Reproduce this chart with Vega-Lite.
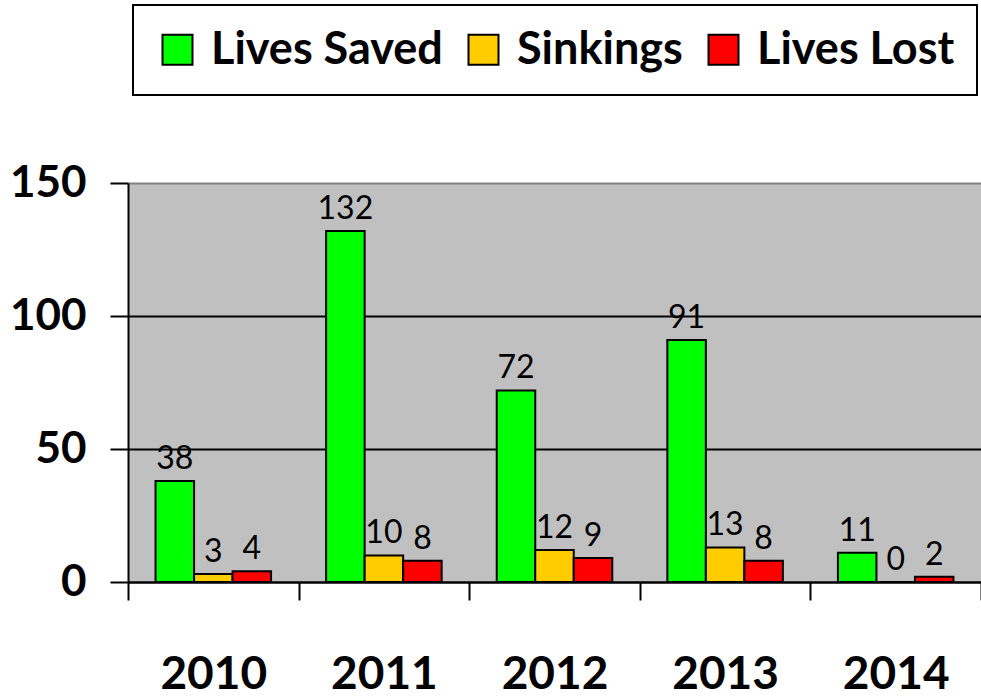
{
  "$schema": "https://vega.github.io/schema/vega-lite/v6.json",
  "width": 853,
  "height": 399,
  "autosize": {"type": "none"},
  "padding": {"left": 128, "top": 183, "right": 0, "bottom": 118},
  "background": "white",
  "data": {
    "values": [
      {"year": "2010", "series": "Lives Saved", "value": 38},
      {"year": "2010", "series": "Sinkings", "value": 3},
      {"year": "2010", "series": "Lives Lost", "value": 4},
      {"year": "2011", "series": "Lives Saved", "value": 132},
      {"year": "2011", "series": "Sinkings", "value": 10},
      {"year": "2011", "series": "Lives Lost", "value": 8},
      {"year": "2012", "series": "Lives Saved", "value": 72},
      {"year": "2012", "series": "Sinkings", "value": 12},
      {"year": "2012", "series": "Lives Lost", "value": 9},
      {"year": "2013", "series": "Lives Saved", "value": 91},
      {"year": "2013", "series": "Sinkings", "value": 13},
      {"year": "2013", "series": "Lives Lost", "value": 8},
      {"year": "2014", "series": "Lives Saved", "value": 11},
      {"year": "2014", "series": "Sinkings", "value": 0},
      {"year": "2014", "series": "Lives Lost", "value": 2}
    ]
  },
  "encoding": {
    "x": {
      "field": "year",
      "type": "nominal",
      "scale": {"paddingInner": 0, "paddingOuter": 0},
      "axis": {
        "title": null,
        "labelAngle": 0,
        "tickBand": "extent",
        "grid": false,
        "domainColor": "black",
        "domainWidth": 2,
        "tickColor": "black",
        "tickWidth": 2,
        "tickSize": 18,
        "labelFont": "Lato",
        "labelFontWeight": "bold",
        "labelFontSize": 46,
        "labelColor": "black",
        "labelPadding": 52
      }
    },
    "xOffset": {
      "field": "series",
      "type": "nominal",
      "sort": ["Lives Saved", "Sinkings", "Lives Lost"],
      "scale": {"paddingInner": 0, "paddingOuter": 0.715}
    },
    "y": {
      "field": "value",
      "type": "quantitative",
      "scale": {"domain": [0, 150], "nice": false},
      "axis": {
        "title": null,
        "values": [0, 50, 100, 150],
        "grid": true,
        "gridColor": {"condition": {"test": "datum.value === 150", "value": "#808080"}, "value": "black"},
        "gridWidth": 2,
        "domainColor": "black",
        "domainWidth": 2,
        "tickColor": "black",
        "tickWidth": 2,
        "tickSize": 18,
        "labelFont": "Lato",
        "labelFontWeight": "bold",
        "labelFontSize": 44,
        "labelColor": "black",
        "labelPadding": 24
      }
    }
  },
  "layer": [
    {
      "mark": {"type": "bar", "stroke": "black", "strokeWidth": 2},
      "encoding": {
        "color": {
          "field": "series",
          "type": "nominal",
          "sort": ["Lives Saved", "Sinkings", "Lives Lost"],
          "scale": {"domain": ["Lives Saved", "Sinkings", "Lives Lost"], "range": ["#00FF00", "#FFCC00", "#FF0000"]},
          "legend": {
            "orient": "none",
            "legendX": 5,
            "legendY": -178,
            "direction": "horizontal",
            "title": null,
            "symbolType": "square",
            "symbolSize": 900,
            "symbolStrokeColor": "black",
            "symbolStrokeWidth": 2,
            "symbolOpacity": 1,
            "labelFont": "Lato",
            "labelFontWeight": "bold",
            "labelFontSize": 45,
            "labelColor": "black",
            "labelLimit": 0,
            "labelOffset": 11,
            "columnPadding": 18,
            "padding": 22,
            "strokeColor": "black",
            "fillColor": "white"
          }
        }
      }
    },
    {
      "mark": {
        "type": "text",
        "baseline": "alphabetic",
        "dy": -12,
        "font": "Lato",
        "fontSize": 32,
        "color": "black"
      },
      "encoding": {"text": {"field": "value", "type": "quantitative"}}
    }
  ],
  "config": {
    "view": {"stroke": null, "fill": "#C0C0C0"},
    "legend": {"strokeWidth": 2}
  }
}
